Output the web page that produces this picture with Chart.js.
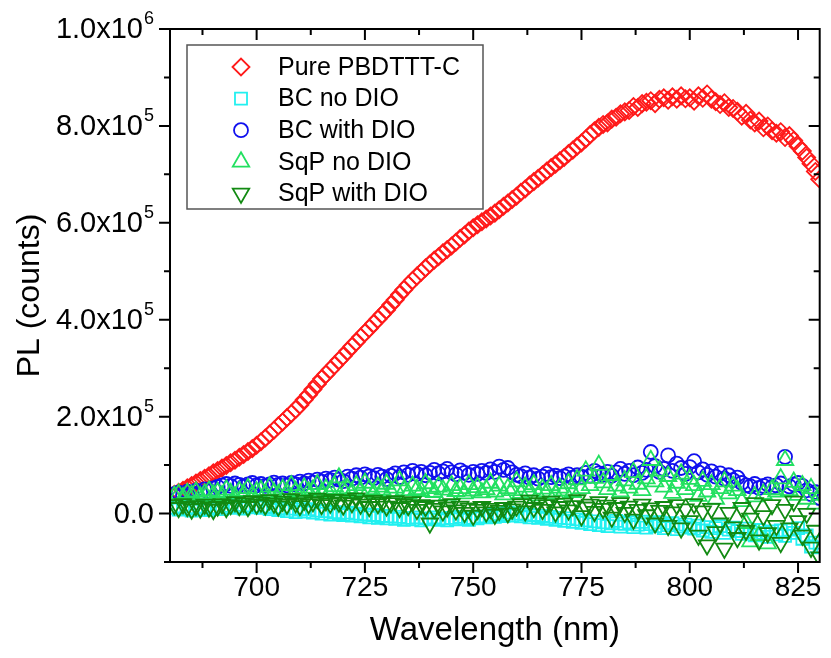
<!DOCTYPE html>
<html>
<head>
<meta charset="utf-8">
<script src="https://cdn.jsdelivr.net/npm/chart.js"></script>
<style>
  body { margin: 0; background: #fff; }
  canvas { display: block; }
</style>
</head>
<body>
<canvas id="plChart" width="831" height="658"></canvas>
<script>
// wavelength grid (nm)
const wavelengths = [
    681, 682, 683, 684, 685, 686, 687, 688, 689, 690,
    691, 692, 693, 694, 695, 696, 697, 698, 699, 700,
    701, 702, 703, 704, 705, 706, 707, 708, 709, 710,
    711, 712, 713, 714, 715, 716, 717, 718, 719, 720,
    721, 722, 723, 724, 725, 726, 727, 728, 729, 730,
    731, 732, 733, 734, 735, 736, 737, 738, 739, 740,
    741, 742, 743, 744, 745, 746, 747, 748, 749, 750,
    751, 752, 753, 754, 755, 756, 757, 758, 759, 760,
    761, 762, 763, 764, 765, 766, 767, 768, 769, 770,
    771, 772, 773, 774, 775, 776, 777, 778, 779, 780,
    781, 782, 783, 784, 785, 786, 787, 788, 789, 790,
    791, 792, 793, 794, 795, 796, 797, 798, 799, 800,
    801, 802, 803, 804, 805, 806, 807, 808, 809, 810,
    811, 812, 813, 814, 815, 816, 817, 818, 819, 820,
    821, 822, 823, 824, 825, 826, 827, 828, 829, 830
];

// PL values in thousands of counts
const purePBDTTT = [
    40, 44, 48, 53, 58, 63, 68, 73, 78, 84,
    89, 94, 99, 105, 110, 116, 122, 128, 134, 141,
    148, 156, 164, 172, 181, 189, 198, 206, 215, 224,
    235, 245, 256, 267, 278, 287, 297, 306, 316, 325,
    335, 345, 354, 364, 373, 382, 392, 401, 411, 420,
    431, 441, 452, 462, 472, 481, 490, 498, 507, 515,
    523, 530, 538, 545, 552, 560, 568, 575, 583, 590,
    596, 602, 608, 614, 620, 627, 634, 641, 648, 655,
    663, 670, 678, 685, 692, 699, 707, 714, 721, 728,
    735, 743, 750, 758, 765, 773, 782, 790, 797, 803,
    806, 814, 818, 825, 829, 832, 840, 838, 846, 849,
    852, 846, 855, 858, 853, 860, 855, 862, 856, 858,
    851, 862, 857, 866, 855, 850, 844, 848, 838, 836,
    830, 820, 826, 812, 806, 810, 796, 800, 790, 785,
    788, 776, 780, 770, 758, 748, 735, 722, 706, 690
];

const bcNoDIO = [
    12, 8, 15, 10, 6, 13, 9, 14, 7, 11,
    13, 9, 16, 12, 18, 14, 10, 17, 13, 16,
    12, 15, 9, 13, 7, 11, 5, 10, 3, 8,
    4, 9, 2, 6, 0, 5, -2, 3, 1, -3,
    2, -4, 0, -6, -2, -8, -3, -9, -5, -10,
    -6, -11, -7, -13, -9, -12, -8, -14, -10, -12,
    -8, -13, -10, -14, -9, -12, -7, -11, -13, -9,
    -10, -6, -8, -3, -7, -1, -5, 2, -4, 0,
    -6, -2, -8, -3, -9, -5, -11, -7, -13, -9,
    -15, -10, -17, -12, -19, -14, -22, -16, -24, -18,
    -26, -20, -15, -27, -21, -18, -28, -23, -17, -29,
    -22, -26, -18, -30, -24, -20, -32, -27, -23, -29,
    -31, -25, -35, -28, -38, -30, -26, -40, -33, -29,
    -36, -42, -31, -38, -45, -34, -40, -48, -37, -43,
    -35, -46, -33, -40, -30, -52, -45, -68, -60, -70
];

const bcWithDIO = [
    40, 43, 38, 45, 42, 47, 44, 50, 46, 52,
    55, 58, 61, 57, 62, 59, 56, 60, 63, 58,
    61, 57, 60, 64, 59, 62, 58, 63, 60, 66,
    62, 68, 64, 70, 66, 72, 69, 74, 70, 67,
    76, 72, 79, 74, 81, 77, 73, 80, 76, 71,
    78, 83, 75, 85, 80, 88, 82, 86, 79, 84,
    90, 83, 87, 92, 85, 81, 89, 84, 80, 86,
    82, 88, 84, 91, 86, 97, 90, 94, 85, 80,
    77, 83, 74, 79, 72, 76, 82, 75, 78, 73,
    77, 81, 74, 79, 76, 84, 78, 88, 83, 80,
    86, 78, 85, 92, 82, 88, 79, 95, 84, 90,
    127, 98, 86, 92, 120, 88, 103, 94, 82, 96,
    108, 85, 91, 80, 87, 76, 83, 72, 79, 69,
    74, 63, 58, 56, 61, 53, 57, 60, 55, 58,
    62, 117, 56, 60, 63, 57, 48, 40, 44, 32
];

const sqpNoDIO = [
    36, 40, 33, 42, 38, 45, 35, 41, 47, 39,
    44, 37, 49, 42, 35, 46, 40, 52, 38, 45,
    48, 41, 55, 43, 39, 50, 44, 58, 46, 40,
    53, 45, 49, 60, 43, 51, 47, 56, 74, 48,
    52, 44, 58, 47, 63, 50, 42, 55, 49, 61,
    45, 53, 68, 48, 41, 57, 50, 46, 62, 52,
    44, 55, 49, 38, 58, 46, 52, 41, 60, 47,
    54, 43, 50, 63, 45, 57, 39, 52, 48, 66,
    42, 55, 47, 60, 37, 51, 45, 58, 40, 53,
    47, 62, 44, 70, 52, 88, 58, 73, 100, 64,
    50, 79, 57, 45, 68, 53, 85, 61, 48, 72,
    110, 66, 88, 55, 77, 42, 63, 82, 50, 71,
    58, 36, 67, 45, 60, 30, 52, 66, 41, 57,
    48, 25, -20, -58, 35, -45, 40, -62, 50, 45,
    72, 110, 48, 65, 38, 58, 30, 52, 20, 38
];

const sqpWithDIO = [
    18, 12, 20, 14, 9, 16, 11, 19, 13, 8,
    15, 20, 12, 18, 24, 16, 22, 14, 26, 19,
    23, 17, 28, 21, 15, 25, 19, 30, 22, 16,
    27, 20, 24, 31, 18, 26, 21, 29, 23, 17,
    28, 22, 32, 19, 25, 14, 27, 20, 24, 15,
    22, 26, 12, 20, 16, 24, 8, 18, 14, -20,
    10, 17, 5, 13, 20, 7, 15, 2, 11, -4,
    8, 14, 3, 10, -2, 6, 12, 1, 9, 15,
    20, 5, 27, 12, 22, 8, 18, 25, 3, 14,
    21, 7, 16, 28, -5, 13, 19, 4, 24, 10,
    17, -8, 12, 22, 2, 15, -12, 8, 19, -3,
    11, -20, 6, 14, -25, 3, 18, -30, 9, -15,
    20, -45, 5, -65, 10, -38, -20, -72, 2, -28,
    -50, 12, -35, -10, 22, -55, -5, -40, 18, -25,
    -60, 8, -30, 25, -15, -45, 0, -70, -35, -90
];

const seriesNames = ['Pure PBDTTT-C', 'BC no DIO', 'BC with DIO', 'SqP no DIO', 'SqP with DIO'];

const xTicks = [700, 725, 750, 775, 800, 825];
const xTickLabels = ['700', '725', '750', '775', '800', '825'];
const xMinorTicks = [687.5, 712.5, 737.5, 762.5, 787.5, 812.5];
const yTicks = [0, 200000, 400000, 600000, 800000, 1000000];
// mantissa and power of ten for each y tick label
const yTickMantissa = ['0.0', '2.0x10', '4.0x10', '6.0x10', '8.0x10', '1.0x10'];
const yTickPower = ['', '5', '5', '5', '5', '6'];
const yMinorTicks = [-100000, 100000, 300000, 500000, 700000, 900000];

const FONT = '"Liberation Sans", Arial, sans-serif';

function toPoints(values) {
    return values.map((v, i) => ({ x: wavelengths[i], y: v * 1000 }));
}

function marker(label, values, color, style, radius, rotation, order) {
    return {
        label: label,
        data: toPoints(values),
        showLine: false,
        borderColor: color,
        backgroundColor: 'rgba(0,0,0,0)',
        pointStyle: style,
        pointRadius: radius,
        pointHoverRadius: radius,
        pointRotation: rotation,
        pointBorderWidth: 1.8,
        order: order
    };
}

const datasets = [
    marker(seriesNames[0], purePBDTTT, '#ff1a1a', 'rectRot', 8.5, 0, 5),
    marker(seriesNames[1], bcNoDIO, '#22f0f0', 'rect', 8.5, 0, 4),
    marker(seriesNames[2], bcWithDIO, '#1010ee', 'circle', 7, 0, 3),
    marker(seriesNames[3], sqpNoDIO, '#22e060', 'triangle', 9.5, 0, 2),
    marker(seriesNames[4], sqpWithDIO, '#128a12', 'triangle', 9.5, 180, 1)
];

// frame, tick marks on all four sides, y labels with superscripts, legend box
const framePlugin = {
    id: 'frame',
    afterDraw(chart) {
        const ctx = chart.ctx;
        const a = chart.chartArea;
        const xs = chart.scales.x;
        const ys = chart.scales.y;
        const major = 11, minor = 6;
        ctx.save();
        ctx.strokeStyle = '#000';
        ctx.lineWidth = 2;
        ctx.beginPath();
        const xt = (v, len) => {
            const p = xs.getPixelForValue(v);
            ctx.moveTo(p, a.bottom); ctx.lineTo(p, a.bottom + len);
            ctx.moveTo(p, a.top); ctx.lineTo(p, a.top + len);
        };
        const yt = (v, len) => {
            const p = ys.getPixelForValue(v);
            ctx.moveTo(a.left, p); ctx.lineTo(a.left - len, p);
            ctx.moveTo(a.right, p); ctx.lineTo(a.right - len, p);
        };
        xTicks.forEach(v => xt(v, major));
        xMinorTicks.forEach(v => xt(v, minor));
        yTicks.forEach(v => yt(v, major));
        yMinorTicks.forEach(v => yt(v, minor));
        ctx.stroke();
        ctx.strokeRect(a.left, a.top, a.right - a.left, a.bottom - a.top);

        // y tick labels
        ctx.fillStyle = '#000';
        ctx.textBaseline = 'middle';
        ctx.textAlign = 'right';
        yTicks.forEach((v, i) => {
            const p = ys.getPixelForValue(v);
            let right = a.left - 16;
            if (yTickPower[i]) {
                ctx.font = '18px ' + FONT;
                ctx.fillText(yTickPower[i], right, p - 10);
                right -= ctx.measureText(yTickPower[i]).width + 1;
            }
            ctx.font = '29px ' + FONT;
            ctx.fillText(yTickMantissa[i], right, p + 1);
        });

        // legend
        const bx = a.left + 17, by = a.top + 16, bw = 296, bh = 164;
        ctx.fillStyle = '#fff';
        ctx.fillRect(bx, by, bw, bh);
        ctx.strokeStyle = '#555';
        ctx.lineWidth = 1.5;
        ctx.strokeRect(bx, by, bw, bh);
        ctx.font = '25px ' + FONT;
        ctx.textBaseline = 'middle';
        ctx.textAlign = 'left';
        chart.data.datasets.forEach((ds, i) => {
            const cy = by + 22 + i * 31.6;
            ctx.strokeStyle = ds.borderColor;
            ctx.fillStyle = 'rgba(0,0,0,0)';
            ctx.lineWidth = 1.8;
            Chart.helpers.drawPoint(ctx, {
                pointStyle: ds.pointStyle,
                radius: ds.pointRadius,
                rotation: ds.pointRotation,
                borderWidth: 1.8
            }, bx + 54, cy);
            ctx.fillStyle = '#000';
            ctx.fillText(ds.label, bx + 91, cy + 1);
        });
        ctx.restore();
    }
};

const plConfig = {
    type: 'scatter',
    data: { datasets: datasets },
    options: {
        responsive: false,
        animation: false,
        layout: { padding: { top: 29, right: 8, left: 0, bottom: 0 } },
        plugins: {
            legend: { display: false },
            title: { display: false },
            tooltip: { enabled: false }
        },
        scales: {
            x: {
                type: 'linear',
                min: 680,
                max: 830,
                afterBuildTicks: (s) => { s.ticks = xTicks.map(v => ({ value: v })); },
                afterFit: (s) => { s.height = 96; },
                grid: { display: false, drawTicks: false },
                border: { display: false },
                ticks: {
                    padding: 9,
                    color: '#000',
                    font: { family: FONT, size: 28 },
                    maxRotation: 0,
                    autoSkip: false,
                    callback: (v, i) => xTickLabels[i]
                },
                title: {
                    display: true,
                    text: 'Wavelength (nm)',
                    color: '#000',
                    font: { family: FONT, size: 33 },
                    padding: { top: 0, bottom: 7 }
                }
            },
            y: {
                type: 'linear',
                min: -100000,
                max: 1000000,
                afterBuildTicks: (s) => { s.ticks = yTicks.map(v => ({ value: v })); },
                afterFit: (s) => { s.width = 170; },
                grid: { display: false, drawTicks: false },
                border: { display: false },
                ticks: { display: false },
                title: {
                    display: true,
                    text: 'PL (counts)',
                    color: '#000',
                    font: { family: FONT, size: 32 },
                    padding: { top: 11, bottom: 0 }
                }
            }
        }
    },
    plugins: [framePlugin]
};

new Chart(document.getElementById('plChart').getContext('2d'), plConfig);
</script>
</body>
</html>
